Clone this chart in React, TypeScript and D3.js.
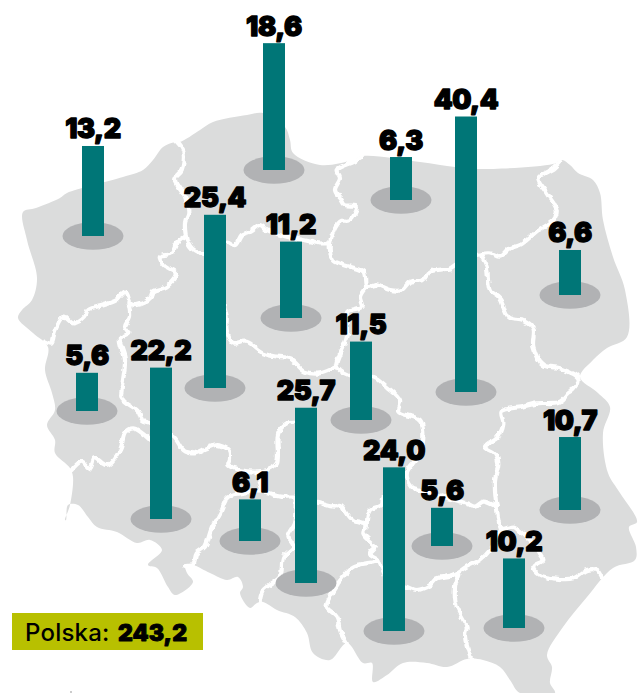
import React from "react";
import * as d3 from "d3";

type P = [number, number];

// Values, one per voivodeship
const regions = ["zachodniopomorskie","pomorskie","kujawsko-pomorskie","wielkopolskie","warmińsko-mazurskie","mazowieckie","podlaskie","łódzkie","lubuskie","dolnośląskie","śląskie","opolskie","małopolskie","świętokrzyskie","podkarpackie","lubelskie"];
const values = [13.2, 18.6, 11.2, 25.4, 6.3, 40.4, 6.6, 11.5, 5.6, 22.2, 25.7, 6.1, 24.0, 5.6, 10.2, 10.7];
const total = 243.2;
// Map anchors of the bars
const anchorX = [93, 274, 291, 215, 401, 466, 570, 361, 87, 161, 306, 250, 394, 442, 514, 570];
const anchorY = [236, 170, 318, 388, 200, 392, 295, 420, 411, 519, 583, 541, 631, 546, 628, 510];

const fmt = (v: number) => v.toFixed(1).replace(".", ",");

// Map geometry
const outline: P[] = [[23,212],[36,208],[60,198],[67,193],[123,177],[143,170],[153,160],[163,147],[175,142],[180,142],[200,130],[213,122],[247,115],[263,113],[285,127],[290,140],[293,153],[320,165],[353,160],[363,156],[420,162],[455,167],[477,169],[553,164],[562,160],[570,165],[578,173],[593,180],[600,193],[603,220],[613,257],[625,290],[627,337],[607,348],[593,360],[580,377],[598,393],[610,407],[603,433],[608,473],[620,493],[637,522],[629,527],[636,547],[635,560],[613,568],[587,597],[563,627],[547,655],[552,667],[550,683],[555,693],[520,693],[510,680],[500,667],[483,660],[467,659],[447,667],[427,663],[403,663],[387,675],[373,682],[372,663],[363,663],[347,643],[330,660],[313,653],[307,633],[295,617],[277,610],[263,602],[257,603],[250,608],[240,593],[243,587],[238,577],[227,580],[210,573],[193,565],[185,565],[187,573],[193,582],[175,595],[168,587],[157,568],[148,565],[162,550],[150,540],[137,543],[117,532],[97,527],[88,517],[78,505],[68,505],[66,520],[65,520],[70,505],[73,477],[70,468],[55,453],[55,440],[47,425],[55,410],[52,393],[45,370],[48,347],[33,333],[18,318],[22,310],[32,300],[37,278],[27,240]];

const crop = (ox: number, oy: number) => (pts: P[]): P[] => pts.map(([x, y]) => [ox + x / 3, oy + y / 3] as P);
const nw = crop(0, 90), ne = crop(320, 90), sw = crop(0, 390), se = crop(320, 390);

const borders: P[][] = [
  nw([[530,155],[550,185],[545,240],[525,265],[555,320],[565,370],[555,400],[565,460],[590,485],[640,490],[680,455],[705,465],[725,435],[750,425],[780,405],[800,420],[860,440],[910,450],[960,460]]).concat(ne([[30,460]])),
  nw([[555,440],[530,460],[515,490],[480,500],[490,525],[530,550],[500,590],[460,605],[450,625],[410,645],[390,640],[375,605],[350,630],[310,645],[265,660],[255,680],[220,700],[190,680],[165,720],[155,760],[135,755]]),
  nw([[385,640],[390,680],[375,710],[385,730],[360,745],[375,810],[365,900]]).concat(sw([[365,25],[415,65],[425,90],[450,100],[483,130]])),
  ne([[125,200],[100,215],[50,240],[60,265],[45,300],[65,330],[75,345],[110,350],[90,390],[60,395],[30,460],[40,510],[70,525],[130,545],[140,590],[170,585],[210,600],[245,600],[270,575],[310,570],[330,545],[390,535],[405,525],[440,505],[470,495],[510,490],[540,500],[570,475],[600,465],[650,425],[700,390],[710,360],[680,310],[655,265],[700,235],[720,215]]),
  ne([[485,500],[500,530],[510,600],[540,625],[565,680],[610,690],[640,715],[640,770],[670,825],[720,835],[775,865],[760,900]]).concat(se([[745,10],[720,35],[650,40],[610,50],[545,65],[550,100],[530,145],[495,170],[525,190],[535,220],[525,270],[530,350],[545,415],[580,410],[600,425],[640,460],[660,490],[670,510],[640,530],[660,555],[700,565],[760,565],[800,540],[830,540],[850,570]])),
  ne([[140,590],[120,620],[125,650],[85,665],[80,740],[60,790],[50,830],[100,860],[155,860],[170,865],[200,890]]).concat(se([[240,30],[235,65],[300,90],[310,130],[300,190],[260,250],[275,290],[300,300],[370,320],[440,340],[465,350],[490,335],[530,350]])),
  nw([[640,490],[660,600],[680,680],[680,720],[700,760],[740,755],[790,790],[830,800],[870,805],[915,845],[960,850]]).concat(ne([[50,830]])),
  sw([[450,150],[485,135],[520,140],[550,180],[580,190],[620,175],[650,165],[685,180],[690,205],[685,225],[720,240],[770,245],[800,240],[830,220],[835,130],[860,100],[900,95]]),
  sw([[215,240],[245,215],[270,235],[285,205],[320,225],[360,180],[375,130],[400,115],[450,150]]),
  sw([[555,525],[580,520],[590,490],[615,470],[635,415],[660,370],[685,320],[720,310],[790,305],[840,320],[880,320],[960,340]]).concat(se([[40,350],[60,345],[90,385],[140,405],[130,430],[165,470],[150,490],[175,510],[100,530],[70,560],[35,610],[20,650],[50,680],[60,720],[80,760]])),
  sw([[770,245],[790,305]]),
  sw([[890,325],[885,400],[865,440],[880,470],[850,500],[840,560],[790,600],[780,630]]),
  se([[140,405],[150,360],[185,345],[190,320],[230,280],[260,250]]),
  se([[210,590],[255,590],[290,600],[330,585],[350,565],[400,555],[440,530],[480,510],[510,480],[545,415]]),
  se([[175,510],[210,590]]),
  se([[415,555],[405,590],[410,650],[430,690],[440,710],[435,740],[455,810]]),
];

const BAR_W = 22;
const RX = 30.5;
const RY = 13.7;

export default function App() {
  const h = d3.scaleLinear().domain([0, 40.4]).range([0, 275.5]);
  const closed = d3.line<P>().curve(d3.curveCatmullRomClosed.alpha(0.5));
  const open = d3.line<P>().curve(d3.curveCatmullRom.alpha(0.5));
  const labelFont = "Inter, 'Noto Sans', sans-serif";
  return (
    <svg width={641} height={693} viewBox="0 0 641 693" style={{ position: "absolute", left: 0, top: 0, background: "#fff" }}>
      <defs>
        <filter id="wiggle" x="0" y="0" width="641" height="693" filterUnits="userSpaceOnUse">
          <feTurbulence type="fractalNoise" baseFrequency="0.13" numOctaves={2} seed={4} result="n" />
          <feDisplacementMap in="SourceGraphic" in2="n" scale={5} xChannelSelector="R" yChannelSelector="G" />
        </filter>
      </defs>
      <path d={closed(outline) ?? ""} fill="#dbdcdc" />
      <g filter="url(#wiggle)">
        {borders.map((b, i) => (
          <path key={i} d={open(b) ?? ""} fill="none" stroke="#fff" strokeWidth={4.2} strokeLinejoin="round" strokeLinecap="round" />
        ))}
      </g>
      {regions.map((r, i) => (
        <ellipse key={r} cx={anchorX[i]} cy={anchorY[i]} rx={RX} ry={RY} fill="#b1b2b4" />
      ))}
      {regions.map((r, i) => (
        <rect key={r} x={anchorX[i] - BAR_W / 2} y={anchorY[i] - h(values[i])} width={BAR_W} height={h(values[i])} fill="#007677" />
      ))}
      {regions.map((r, i) => (
        <text key={r} x={anchorX[i]} y={anchorY[i] - h(values[i]) - 7.5} textAnchor="middle" fontFamily={labelFont} fontWeight={900} fontSize={27} letterSpacing={-0.4} stroke="#000" strokeWidth={1.3} strokeLinejoin="round" fill="#000">
          {fmt(values[i])}
        </text>
      ))}
      <rect x={12} y={613} width={191} height={37} fill="#b8c000" />
      <text x={25} y={641} fontFamily={labelFont} fontSize={24} fontWeight={500} letterSpacing={0.2} fill="#000">Polska:</text>
      <text x={118} y={641} fontFamily={labelFont} fontSize={23} fontWeight={900} stroke="#000" strokeWidth={0.9} strokeLinejoin="round" fill="#000">{fmt(total)}</text>
      <rect x={70.5} y={691} width={1} height={2} fill="#9a9a9a" />
    </svg>
  );
}
